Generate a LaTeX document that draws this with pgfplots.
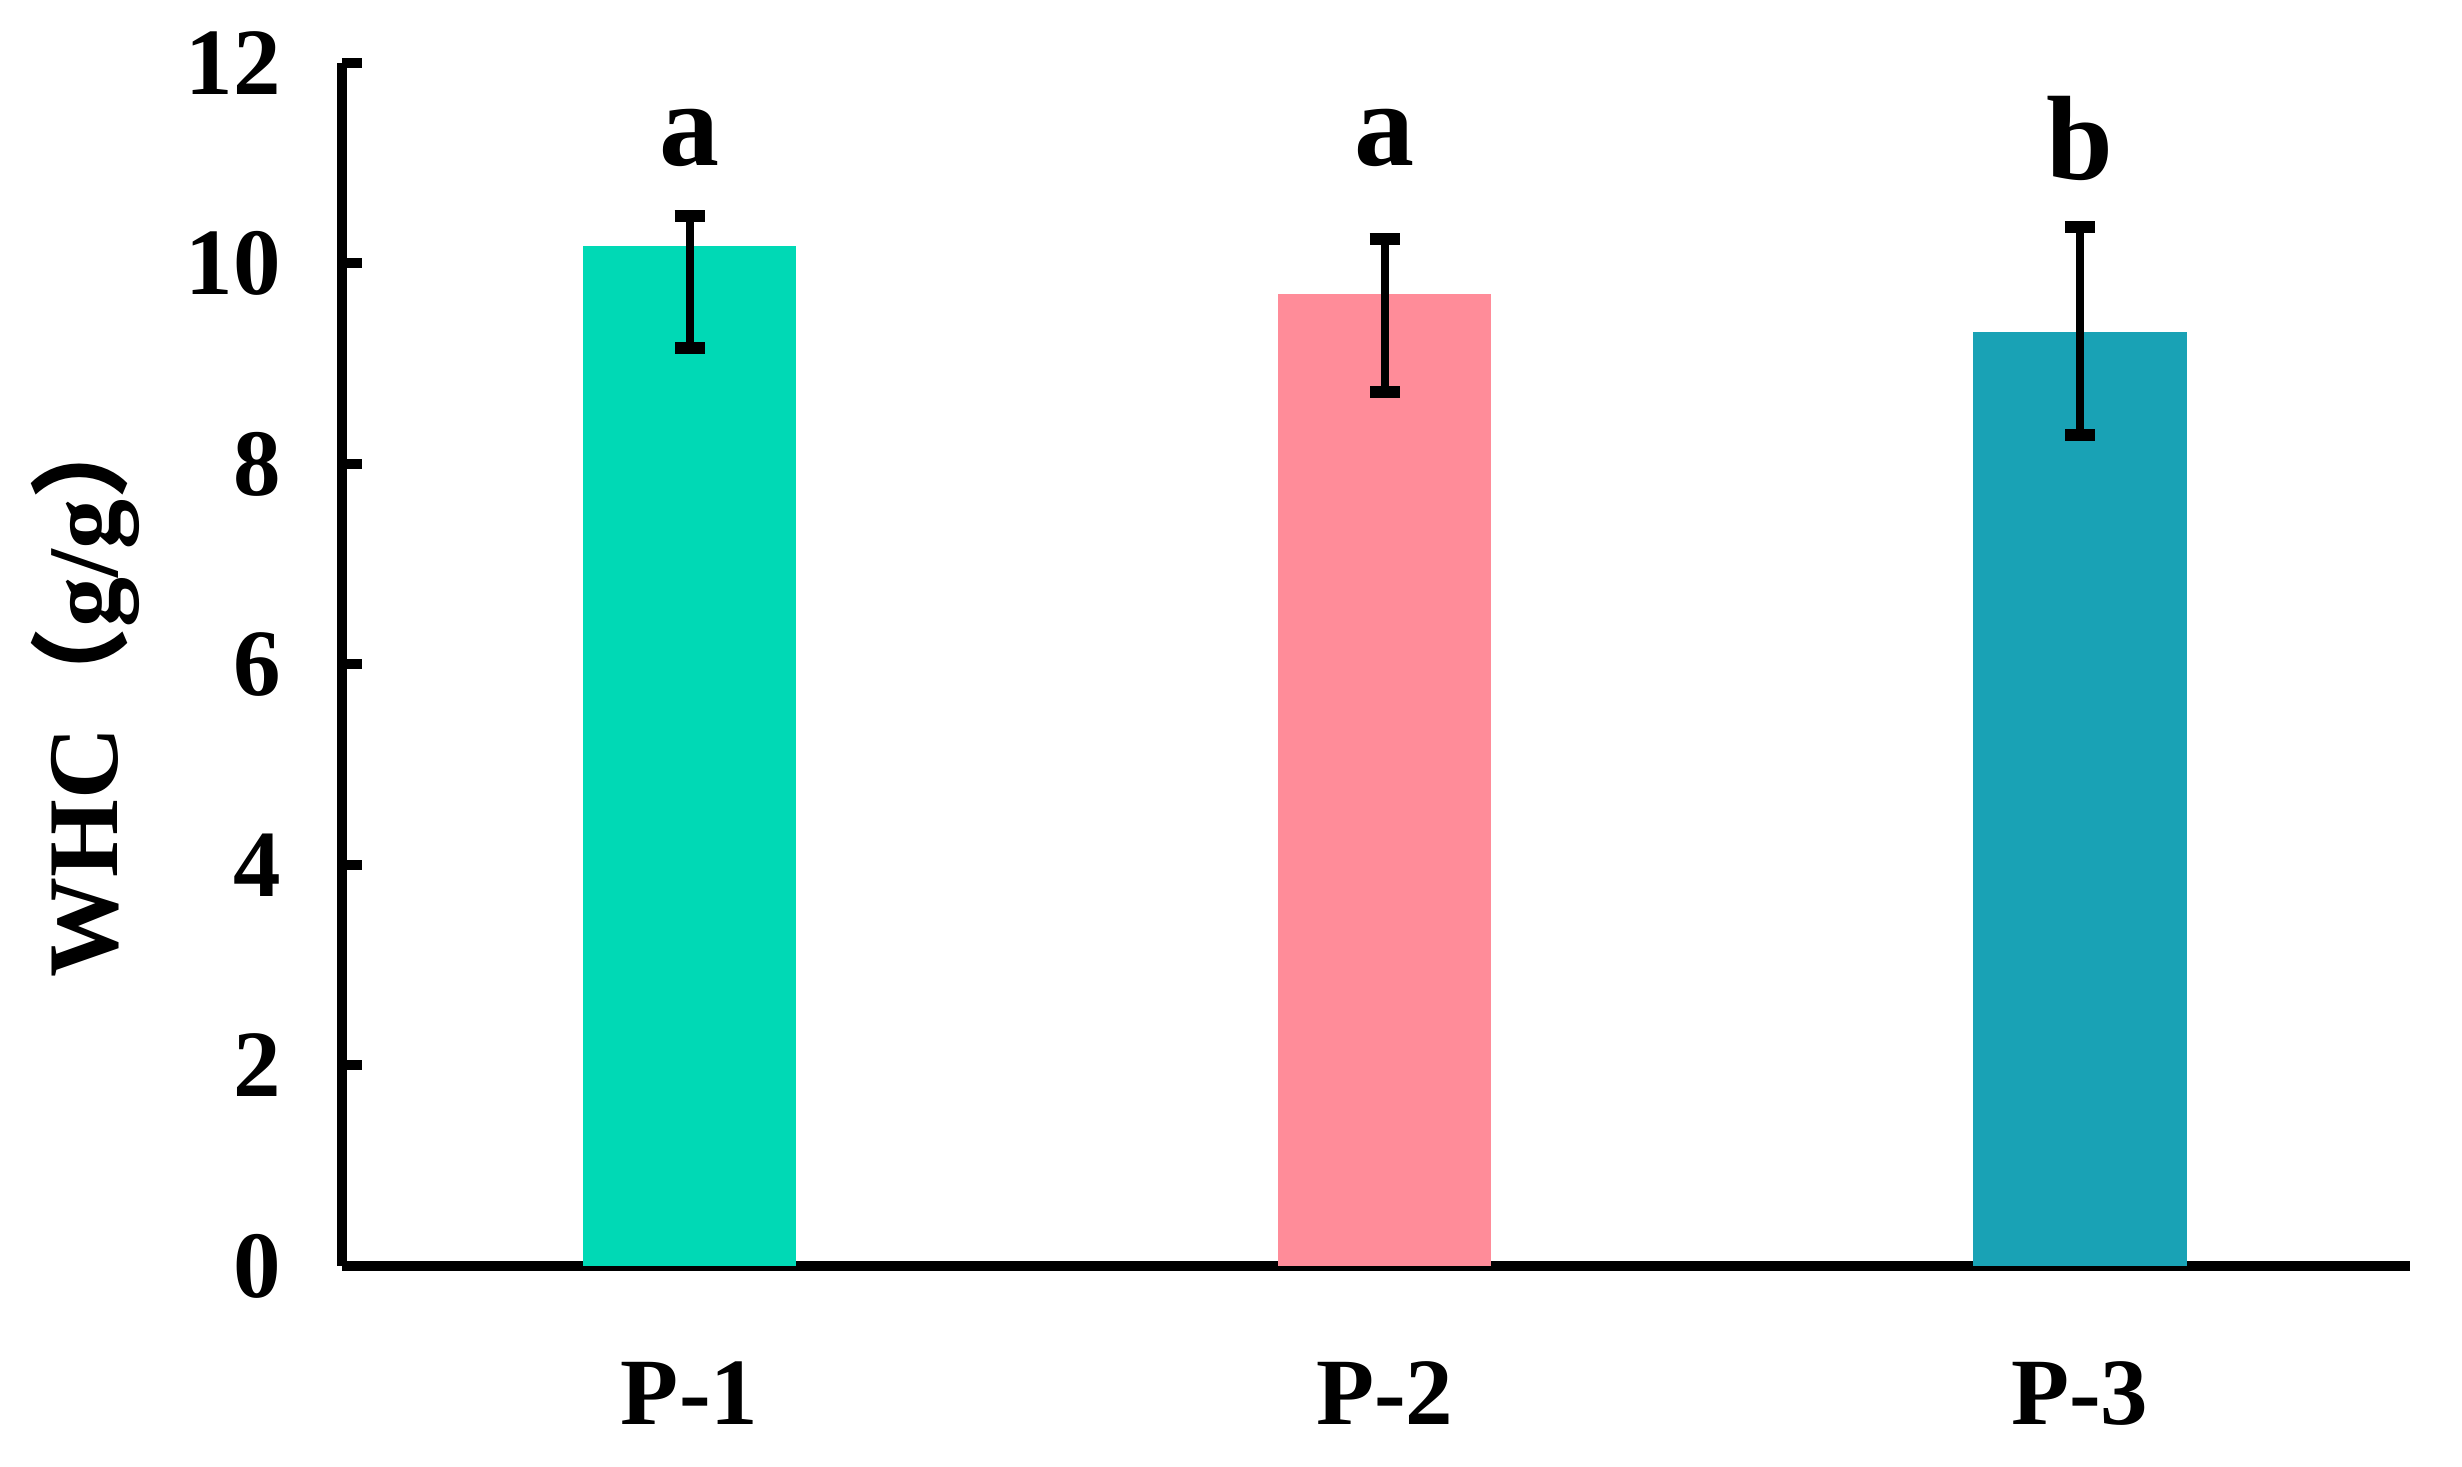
\documentclass[border=0pt]{standalone}
\usepackage{pgfplots}
\pgfplotsset{compat=1.18}
\usepackage{fontspec}
\setmainfont{Liberation Serif}
\newfontfamily\cjk{Noto Sans CJK SC}
\definecolor{cA}{RGB}{0,217,181}
\definecolor{cB}{RGB}{255,140,153}
\definecolor{cC}{RGB}{25,162,181}
\begin{document}
\begin{tikzpicture}
\useasboundingbox (-68.4pt,-40.2pt) rectangle (424pt,253.2pt);
\begin{axis}[
  at={(0,0)}, anchor=south west,
  scale only axis, width=413.6pt, height=240.6pt,
  xmin=-0.5, xmax=2.475, ymin=0, ymax=12,
  axis x line=bottom, axis y line=left,
  axis line style={-, line width=2pt, black},
  xtick={0,1,2}, xticklabels={P-1,P-2,P-3},
  xtick style={draw=none},
  ytick={0,2,4,6,8,10,12},
  ytick style={line width=2pt, black},
  tick align=inside, major tick length=4pt,
  /pgf/number format/assume math mode=true,
  ticklabel style={font=\fontsize{19}{22}\selectfont\bfseries},
  yticklabel style={anchor=east, inner sep=0pt, xshift=-12pt},
  xticklabel style={anchor=north, inner sep=0pt, yshift=-19pt},
  ylabel={WHC{\cjk（}g/g{\cjk）}},
  ylabel style={font=\fontsize{20}{24}\selectfont\bfseries, at={(axis description cs:-0.124,0.48)}, anchor=center},
  clip=false,
]
\addplot[ybar, bar width=42.7pt, bar shift=0pt, fill=cA, draw=none,
  error bars/.cd, y dir=both, y explicit,
  error bar style={line width=1.6pt, black},
  error mark options={rotate=90, line width=2.4pt, mark size=3pt, black}]
  coordinates {(0,10.17) += (0,0.30) -= (0,1.01)};
\addplot[ybar, bar width=42.7pt, bar shift=0pt, fill=cB, draw=none,
  error bars/.cd, y dir=both, y explicit,
  error bar style={line width=1.6pt, black},
  error mark options={rotate=90, line width=2.4pt, mark size=3pt, black}]
  coordinates {(1,9.70) += (0,0.54) -= (0,0.98)};
\addplot[ybar, bar width=42.7pt, bar shift=0pt, fill=cC, draw=none,
  error bars/.cd, y dir=both, y explicit,
  error bar style={line width=1.6pt, black},
  error mark options={rotate=90, line width=2.4pt, mark size=3pt, black}]
  coordinates {(2,9.32) += (0,1.04) -= (0,1.03)};
\node[font=\fontsize{24}{28}\selectfont\bfseries] at (axis cs:0,11.25) {a};
\node[font=\fontsize{24}{28}\selectfont\bfseries] at (axis cs:1,11.25) {a};
\node[font=\fontsize{24}{28}\selectfont\bfseries] at (axis cs:2,11.25) {b};
\end{axis}
\end{tikzpicture}
\end{document}
